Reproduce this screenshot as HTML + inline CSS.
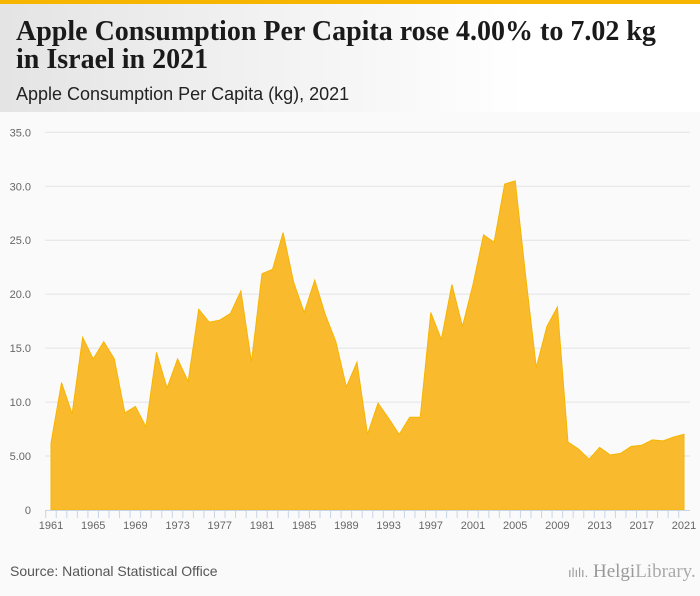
<!DOCTYPE html>
<html><head><meta charset="utf-8"><style>
body{margin:0;width:700px;height:596px;background:#fafafa;overflow:hidden;font-family:"Liberation Sans",sans-serif;position:relative}
#hdr{position:absolute;left:0;top:0;width:700px;height:112px;background:linear-gradient(90deg,#e4e4e4,#ffffff 75%);border-top:4px solid #f7b500;box-sizing:border-box}
#title{position:absolute;left:16px;top:14px;font-family:"Liberation Serif",serif;font-weight:bold;font-size:28px;line-height:28px;color:#1a1a1a;white-space:nowrap}
#sub{position:absolute;left:16px;top:80px;font-size:18px;color:#222;white-space:nowrap}
#src{position:absolute;left:10px;top:563px;font-size:14px;color:#555;white-space:nowrap}
#logo{position:absolute;left:568px;top:561px;font-family:"Liberation Serif",serif;font-size:19px;color:#999;white-space:nowrap}
</style></head><body>
<div id="hdr">
<div id="title">Apple Consumption Per Capita rose 4.00% to 7.02 kg<br>in Israel in 2021</div>
<div id="sub">Apple Consumption Per Capita (kg), 2021</div>
</div>
<svg id="chart" width="700" height="596" style="position:absolute;left:0;top:0"></svg>
<div id="src">Source: National Statistical Office</div>
<div id="logo"><span style="font-size:13px;font-family:'Liberation Sans',sans-serif">ılılı.</span> Helgi<span style="color:#aaa">Library.</span></div>
<script>
const years=[];for(let y=1961;y<=2021;y++)years.push(y);
const values=[6.2,11.8,8.9,16.0,14.0,15.6,14.0,9.0,9.6,7.7,14.6,11.3,14.0,11.9,18.6,17.4,17.6,18.2,20.3,13.7,21.9,22.3,25.7,21.1,18.3,21.3,18.1,15.6,11.4,13.7,7.0,9.9,8.5,7.0,8.6,8.6,18.3,15.8,20.9,17.0,20.9,25.5,24.8,30.2,30.5,21.6,13.2,17.0,18.8,6.3,5.65,4.7,5.8,5.1,5.25,5.9,6.0,6.5,6.4,6.75,7.02];
const yTicks=[0,5,10,15,20,25,30,35];
const yTickLabels=["0","5.00","10.0","15.0","20.0","25.0","30.0","35.0"];
const xTickYears=[1961,1965,1969,1973,1977,1981,1985,1989,1993,1997,2001,2005,2009,2013,2017,2021];
const svg=document.getElementById('chart');const NS='http://www.w3.org/2000/svg';
const X0=51,X1=684,Y0=510,Y1=132.3;
const xs=y=>X0+(y-1961)*(X1-X0)/60;
const ys=v=>Y0-v*(Y0-Y1)/35;
function mk(t,a){const e=document.createElementNS(NS,t);for(const k in a)e.setAttribute(k,a[k]);svg.appendChild(e);return e;}
yTicks.forEach((t,i)=>{
 if(t>0){const g=mk('line',{x1:45,x2:690,y1:ys(t),y2:ys(t),stroke:'#e3e3e3','stroke-width':1});
 
 }
 const l=mk('text',{x:31,y:ys(t)+4,'text-anchor':'end','font-size':11,fill:'#666','font-family':'Liberation Sans, sans-serif'});
 l.textContent=yTickLabels[i];
 
 
});
let d='M'+xs(years[0])+','+Y0;
years.forEach((y,i)=>{d+=' L'+xs(y).toFixed(2)+','+ys(values[i]).toFixed(2);});
d+=' L'+xs(years[years.length-1])+','+Y0+' Z';
const area=mk('path',{d:d,fill:'#f9bb2d',stroke:'#f7b500','stroke-width':1});


const ax=mk('line',{x1:45,x2:690,y1:Y0+0.5,y2:Y0+0.5,stroke:'#c8d4e8','stroke-width':1});


years.forEach(y=>{const t=mk('line',{x1:xs(y)-5.3,x2:xs(y)-5.3,y1:Y0,y2:Y0+8,stroke:'#c8d4e8','stroke-width':1});
 
 });
xTickYears.forEach(y=>{const l=mk('text',{x:xs(y),y:Y0+19,'text-anchor':'middle','font-size':11,fill:'#666','font-family':'Liberation Sans, sans-serif'});
 l.textContent=y;
 
 });
</script>
</body></html>
